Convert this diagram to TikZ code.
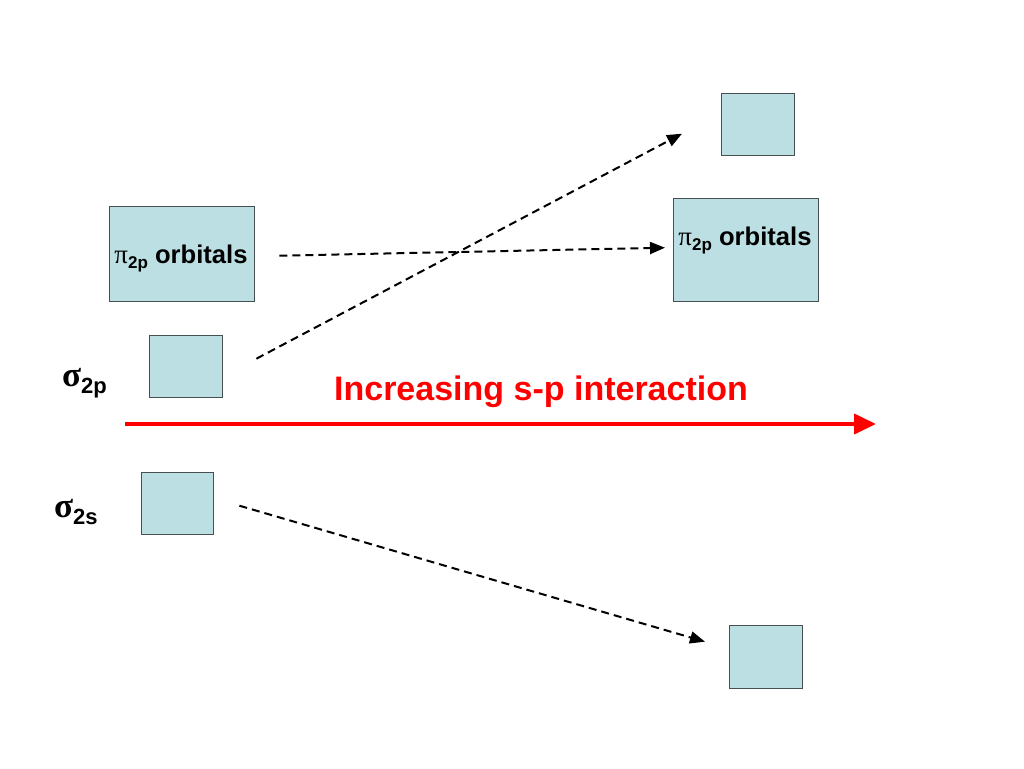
\documentclass[tikz,border=0pt]{standalone}
\usepackage{fontspec}
\setmainfont{Liberation Sans}
\newfontfamily\greekfont{Liberation Serif}
\usetikzlibrary{arrows.meta,calc}
\definecolor{boxfill}{RGB}{187,223,227}
\definecolor{boxline}{RGB}{70,80,82}
\definecolor{redarrow}{RGB}{255,0,0}
\tikzset{
  orb/.style={draw=boxline,line width=1.4pt,fill=boxfill,inner sep=0pt,anchor=north west},
  link/.style={line width=2pt,dash pattern=on 8pt off 5pt,-{Triangle[length=15pt,width=12pt]}},
  lbl/.style={font=\bfseries\fontsize{25.6}{30}\selectfont,inner sep=0pt},
}
\begin{document}
\begin{tikzpicture}[x=1pt,y=-1pt]
\useasboundingbox (0,0) rectangle (1024,768);
\fill[white] (0,0) rectangle (1024,768);
% boxes
\node[orb,minimum width=145pt,minimum height=95pt] (A) at (109,206) {};
\node[orb,minimum width=73pt,minimum height=62pt] (B) at (149,335) {};
\node[orb,minimum width=72pt,minimum height=62pt] (C) at (141,472) {};
\node[orb,minimum width=73pt,minimum height=62pt] (D) at (721,93) {};
\node[orb,minimum width=145pt,minimum height=103pt] (E) at (673,198) {};
\node[orb,minimum width=73pt,minimum height=63pt] (F) at (729,625) {};
% labels
\node[lbl,anchor=base] (Atext) at (181,263) {{\greekfont\mdseries\fontsize{27}{30}\selectfont π}\raisebox{-5pt}{\fontsize{17}{20}\selectfont 2p} orbitals};
\node[lbl,anchor=base] (Etext) at (745,245) {{\greekfont\mdseries\fontsize{27}{30}\selectfont π}\raisebox{-5pt}{\fontsize{17}{20}\selectfont 2p} orbitals};
\node[lbl,anchor=base west] (sp) at (62,386) {{\greekfont\fontsize{35}{36}\selectfont σ}\raisebox{-7pt}{\fontsize{22}{24}\selectfont 2p}};
\node[lbl,anchor=base west] (ss) at (54,517) {{\greekfont\fontsize{35}{36}\selectfont σ}\raisebox{-7pt}{\fontsize{22}{24}\selectfont 2s}};
% red arrow
\coordinate (r1) at (125,424);
\coordinate (r2) at (876,424);
\draw[redarrow,line width=4pt,-{Triangle[length=22pt,width=20pt]}] (r1) -- (r2);
\node[text=redarrow,font=\bfseries\fontsize{34}{38}\selectfont,anchor=base,inner sep=0pt] (title) at (541,400) {Increasing s-p interaction};
% dashed connectors
\draw[link] ($(A.east)+(24,1.5)$) -- ($(E.west)+(-8,-2.5)$);
\draw[link] ($(B.east)+(33,-8)$) -- ($(D.west)+(-39,9)$);
\draw[link] ($(C.east)+(25,2)$) -- ($(F.west)+(-24,-15.5)$);
\end{tikzpicture}
\end{document}
